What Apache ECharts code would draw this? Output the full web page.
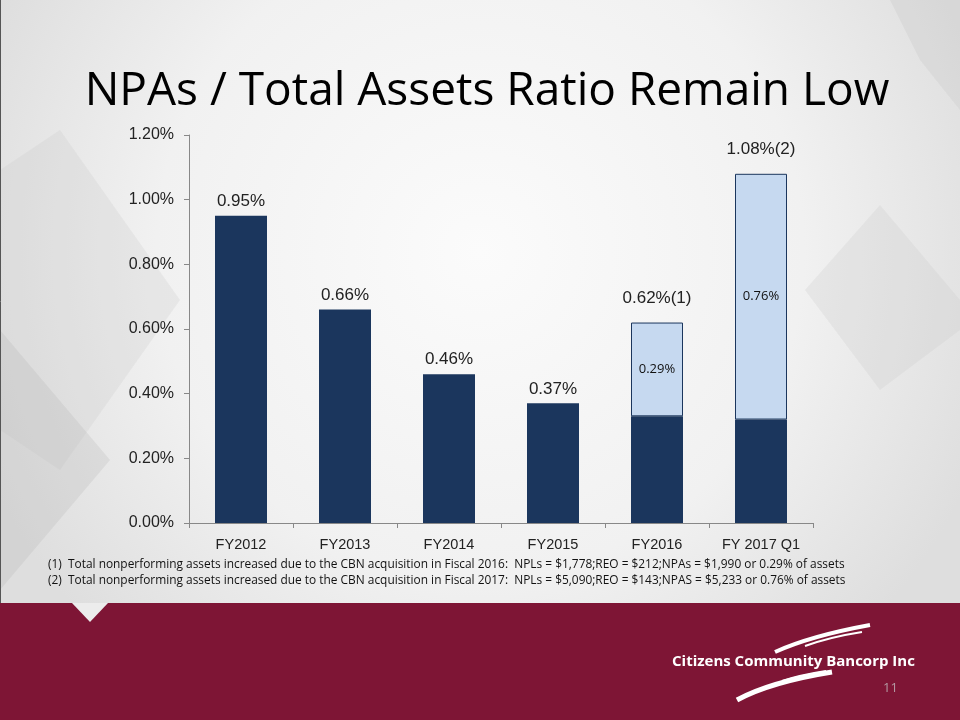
<!DOCTYPE html>
<html><head><meta charset="utf-8">
<script src="https://cdn.jsdelivr.net/npm/echarts@6/dist/echarts.min.js"></script>
<style>html,body{margin:0;padding:0;background:#fff}#c{width:960px;height:720px}</style>
</head><body><div id="c"></div>
<script>
var categories = ['FY2012','FY2013','FY2014','FY2015','FY2016','FY 2017 Q1'];
var baseValues = [0.95, 0.66, 0.46, 0.37, 0.33, 0.32];
var acquisitionValues = [null, null, null, null, 0.29, 0.76];
var acquisitionLabels = ['', '', '', '', '0.29%', '0.76%'];
var totalLabels = ['0.95%', '0.66%', '0.46%', '0.37%', '0.62%(1)', '1.08%(2)'];
var yTicks = ['0.00%','0.20%','0.40%','0.60%','0.80%','1.00%','1.20%'];
var footnotes = [
 '(1)  Total nonperforming assets increased due to the CBN acquisition in Fiscal 2016:  NPLs = $1,778;REO = $212;NPAs = $1,990 or 0.29% of assets',
 '(2)  Total nonperforming assets increased due to the CBN acquisition in Fiscal 2017:  NPLs = $5,090;REO = $143;NPAS = $5,233 or 0.76% of assets'
];

var chart = echarts.init(document.getElementById('c'));
var totalData = totalLabels.map(function(t, i){
  return {value: 0, label: {distance: i >= 4 ? 16 : 6}};
});
var sans = 'Arial, "Liberation Sans", sans-serif';
chart.setOption({
  animation: false,
  graphic: [
    {type:'rect', z:-10, shape:{x:0,y:0,width:960,height:720},
     style:{fill:{type:'radial',x:0.5,y:0.35,r:0.75,colorStops:[{offset:0,color:'#fbfbfb'},{offset:0.6,color:'#f1f1f1'},{offset:1,color:'#dedede'}]}}},
    {type:'polygon', z:-9, shape:{points:[[0,170],[60,130],[180,300],[60,470],[0,430]]}, style:{fill:'rgba(200,200,200,0.25)'}},
    {type:'polygon', z:-9, shape:{points:[[0,330],[110,460],[0,590]]}, style:{fill:'rgba(180,180,180,0.25)'}},
    {type:'polygon', z:-9, shape:{points:[[805,290],[880,205],[960,300],[960,330],[880,390]]}, style:{fill:'rgba(200,200,200,0.25)'}},
    {type:'polygon', z:-9, shape:{points:[[890,0],[960,0],[960,110],[920,60]]}, style:{fill:'rgba(200,200,200,0.3)'}},
    {type:'line', z:-8, shape:{x1:0.5,y1:0,x2:0.5,y2:603}, style:{stroke:'#555',lineWidth:1}},
    {type:'rect', z:-8, shape:{x:0,y:603,width:960,height:117}, style:{fill:'#7e1535'}},
    {type:'polygon', z:-7, shape:{points:[[72,603],[108,603],[90,622]]}, style:{fill:'#ececec'}},
    {type:'text', x:487, y:92, style:{text:'NPAs / Total Assets Ratio Remain Low', fontSize:46, fontFamily:'"Open Sans", sans-serif', fill:'#000', textAlign:'center', textVerticalAlign:'middle'}},
    {type:'text', x:48, y:565, style:{text:footnotes[0], fontSize:11.9, fontFamily:'"Open Sans", sans-serif', fill:'#111', textVerticalAlign:'middle'}},
    {type:'text', x:48, y:581, style:{text:footnotes[1], fontSize:11.9, fontFamily:'"Open Sans", sans-serif', fill:'#111', textVerticalAlign:'middle'}},
    {type:'bezierCurve', shape:{x1:775,y1:652,cpx1:810,cpy1:636,x2:870,y2:625}, style:{stroke:'#fff', lineWidth:4, fill:null}},
    {type:'bezierCurve', shape:{x1:805,y1:646,cpx1:830,cpy1:637,x2:862,y2:632}, style:{stroke:'#fff', lineWidth:2, fill:null}},
    {type:'bezierCurve', shape:{x1:737,y1:700,cpx1:770,cpy1:682,x2:832,y2:672}, style:{stroke:'#fff', lineWidth:5, fill:null}},
    {type:'bezierCurve', shape:{x1:782,y1:681,cpx1:800,cpy1:675,x2:826,y2:671}, style:{stroke:'#fff', lineWidth:2, fill:null}},
    {type:'text', x:672, y:662, style:{text:'Citizens Community Bancorp Inc', fontSize:15, fontWeight:'bold', fontFamily:'"Open Sans", sans-serif', fill:'#fff', textVerticalAlign:'middle'}},
    {type:'text', x:883, y:688, style:{text:'11', fontSize:13, fontFamily:'"Open Sans", sans-serif', fill:'#b59aa3', textVerticalAlign:'middle'}}
  ],
  grid: {left:189, right:147, top:135, bottom:197},
  xAxis: {
    type:'category', data: categories,
    axisLine:{lineStyle:{color:'#888'}},
    axisTick:{show:true, lineStyle:{color:'#888'}, length:5},
    axisLabel:{color:'#222', fontSize:14.5, fontFamily:sans, margin:14}
  },
  yAxis: {
    type:'value', min:0, max:1.2, interval:0.2,
    axisLine:{show:true, lineStyle:{color:'#888'}},
    axisTick:{show:true, lineStyle:{color:'#888'}, length:5},
    splitLine:{show:false},
    axisLabel:{color:'#222', fontSize:16, fontFamily:sans, margin:15,
      formatter:function(v){ return yTicks[Math.round(v/0.2)]; }}
  },
  series: [
    {type:'bar', stack:'s', data: baseValues, barWidth:52, itemStyle:{color:'#1b365d'}},
    {type:'bar', stack:'s', data: acquisitionValues, barWidth:52,
     itemStyle:{color:'#c6d9f0', borderColor:'#1b365d', borderWidth:1},
     label:{show:true, position:'inside', color:'#111', fontSize:13, fontFamily:'"Open Sans", sans-serif',
       formatter:function(p){ return acquisitionLabels[p.dataIndex]; }}},
    {type:'bar', stack:'s', data: totalData, barWidth:52, itemStyle:{color:'transparent'},
     label:{show:true, position:'top', color:'#222', fontSize:17, fontFamily:sans,
       formatter:function(p){ return totalLabels[p.dataIndex]; }}}
  ]
});
</script></body></html>
